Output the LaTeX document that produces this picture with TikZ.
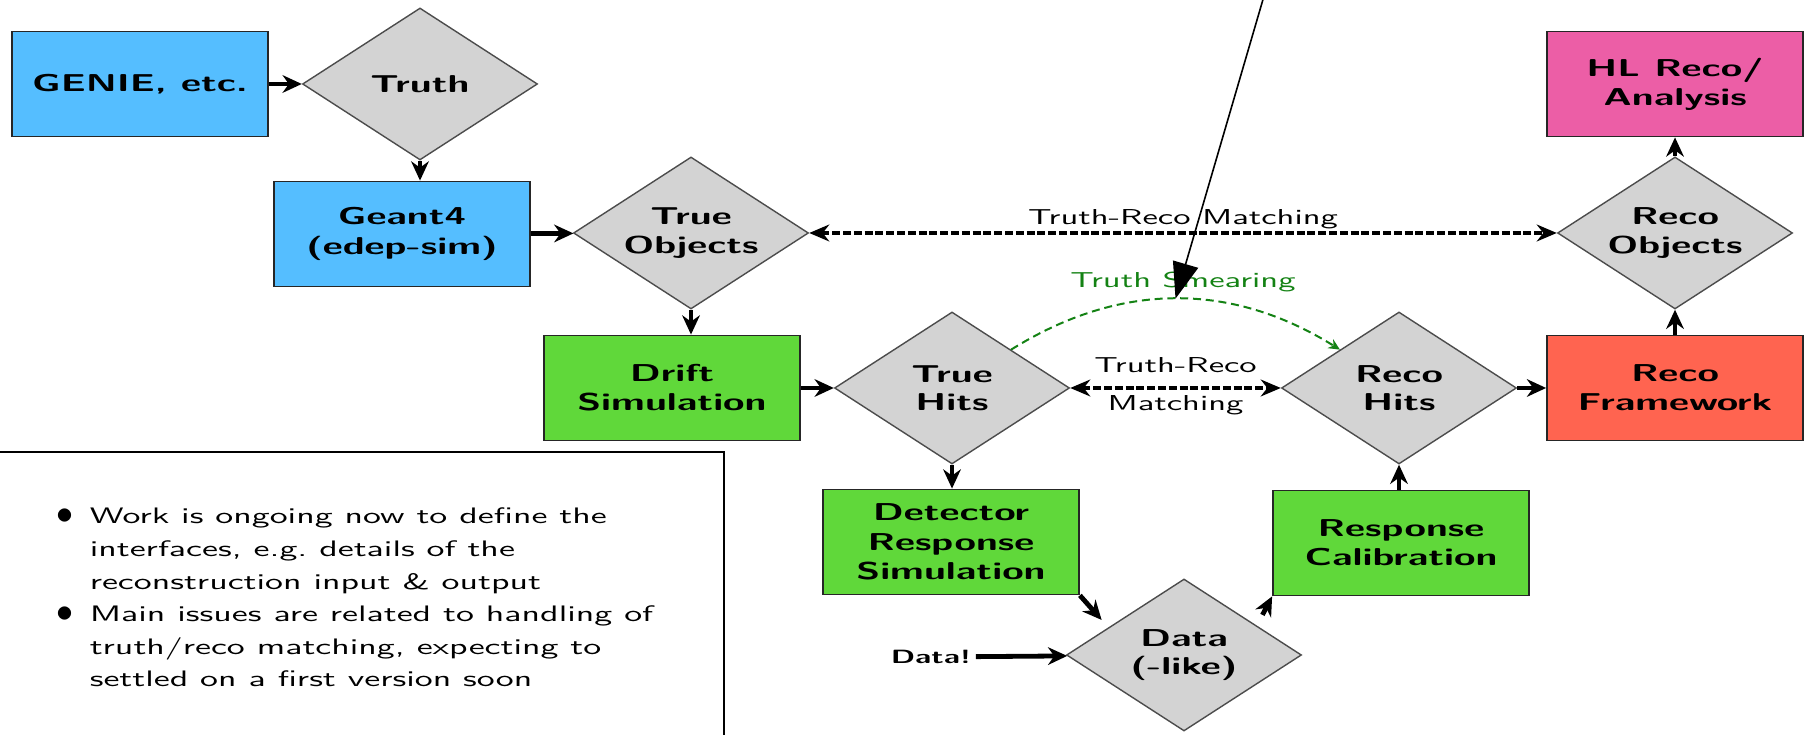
\documentclass[tikz,border=0pt]{standalone}
\usepackage{fontspec}
\setsansfont{lmsans10}[Extension=.otf, UprightFont=*-regular, BoldFont=*-bold, FakeStretch=1.6]
\usepackage{tikz}
\usetikzlibrary{shapes.geometric,arrows.meta}
\definecolor{simblue}{RGB}{85,190,255}
\definecolor{simgreen}{RGB}{96,216,58}
\definecolor{recored}{RGB}{255,100,80}
\definecolor{anapink}{RGB}{236,94,166}
\definecolor{objgrey}{RGB}{211,211,211}
\definecolor{smeargreen}{RGB}{20,130,20}

\tikzset{
  stage/.style={draw=black!85, line width=0.45pt, minimum width=64pt, minimum height=26.25pt,
    inner sep=1pt, align=center, font=\sffamily\bfseries\fontsize{6.1}{7.3}\selectfont},
  object/.style={diamond, aspect=1.55, draw=black!70, line width=0.35pt, fill=objgrey,
    minimum width=58.75pt, minimum height=38pt, inner sep=0pt, align=center,
    font=\sffamily\bfseries\fontsize{6.1}{7.1}\selectfont},
  flow/.style={-{Stealth[length=4.8pt,width=4.4pt]}, line width=1.2pt},
  match/.style={{Stealth[length=5pt,width=4.2pt]}-{Stealth[length=5pt,width=4.2pt]},
    line width=1pt, dash pattern=on 2pt off 0.7pt},
  smear/.style={-{Stealth[length=2.8pt,width=2.6pt]}, smeargreen, line width=0.5pt,
    dash pattern=on 2pt off 1.2pt},
  label/.style={font=\sffamily\fontsize{5.4}{6}\selectfont, inner sep=1pt}
}

\begin{document}
\begin{tikzpicture}[x=0.25pt, y=-0.25pt]
  \useasboundingbox (0,0) rectangle (1808,735);

  % generator and truth
  \node[stage, fill=simblue] (genie) at (140,84) {GENIE, etc.};
  \node[object] (truth) at (420,84) {Truth};
  \node[stage, fill=simblue] (geant) at (402,234) {Geant4\\(edep-sim)};
  \node[object] (trueobj) at (691,233) {True\\Objects};

  % simulation chain
  \node[stage, fill=simgreen] (drift) at (672,388) {Drift\\Simulation};
  \node[object] (truehits) at (952,388) {True\\Hits};
  \node[stage, fill=simgreen] (detsim) at (951,542) {Detector\\Response\\Simulation};
  \node[object] (data) at (1184,655) {Data\\(-like)};
  \node[label, font=\sffamily\bfseries\fontsize{4.8}{6}\selectfont] (realdata) at (931,657) {Data!};

  % reconstruction chain
  \node[stage, fill=simgreen] (calib) at (1401,543) {Response\\Calibration};
  \node[object] (recohits) at (1399,388) {Reco\\Hits};
  \node[stage, fill=recored] (recofw) at (1675,388) {Reco\\Framework};
  \node[object] (recoobj) at (1675,233) {Reco\\Objects};
  \node[stage, fill=anapink] (hlreco) at (1675,84) {HL Reco/\\Analysis};

  \draw[flow] (genie) -- (truth);
  \draw[flow] (truth.south) -- (truth.south |- geant.north);
  \draw[flow] (geant) -- (trueobj);
  \draw[flow] (trueobj.south) -- (trueobj.south |- drift.north);
  \draw[flow] (drift) -- (truehits);
  \draw[flow] (truehits.south) -- (truehits.south |- detsim.north);
  \draw[flow, shorten >=2.5pt] (detsim.south east) -- (data.160);
  \draw[flow] (realdata) -- (data);
  \draw[flow, shorten <=3pt] (data.22) -- (calib.south west);
  \draw[flow] (recohits.south |- calib.north) -- (recohits.south);
  \draw[flow] (recohits) -- (recofw);
  \draw[flow] (recofw) -- (recoobj);
  \draw[flow] (recoobj) -- (hlreco);

  % matching and smearing
  \draw[match] (trueobj) -- node[label, above=-0.5pt] {Truth-Reco Matching} (recoobj);
  \draw[match] (truehits) -- node[label, above=2.2pt] {Truth-Reco}
    node[label, below=0.3pt] {Matching} (recohits);
  \draw[smear] (truehits.north east) to[bend left=32]
    coordinate[pos=0.5] (smeartop) (recohits.north west);
  \node[label, text=smeargreen] (smearlbl) at (1183,282) {Truth Smearing};

  % pointer from above
  \coordinate (pointer) at (1264,-4);
  \draw[-{Triangle[length=9pt,width=6.5pt]}, line width=0.4pt] (pointer) -- (smeartop);

  % notes
  \draw[line width=0.7pt] (-20,452) rectangle (724,760);
  \node[anchor=base west, inner sep=0pt, font=\sffamily\fontsize{5.6}{8.15}\selectfont] (notes) at (56,524) {%
    \begin{tabular}[t]{@{}c@{\hspace{4pt}}l@{}}
      {\fontsize{8}{8}\selectfont$\bullet$} & Work is ongoing now to define the\\
                  & interfaces, e.g.\ details of the\\
                  & reconstruction input \& output\\
      {\fontsize{8}{8}\selectfont$\bullet$} & Main issues are related to handling of\\
                  & truth/reco matching, expecting to\\
                  & settled on a first version soon
    \end{tabular}};
\end{tikzpicture}
\end{document}
